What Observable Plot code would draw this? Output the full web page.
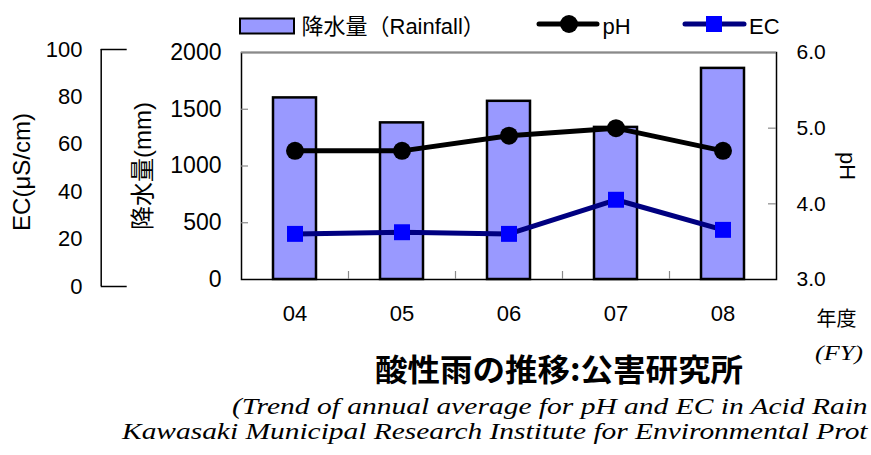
<!DOCTYPE html>
<html>
<head>
<meta charset="utf-8">
<script src="https://cdn.jsdelivr.net/npm/d3@7"></script>
<script src="https://cdn.jsdelivr.net/npm/@observablehq/plot@0.6"></script>
<style>
  html, body { margin: 0; padding: 0; background: #fff; }
  #wrap { position: relative; width: 871px; height: 455px; overflow: hidden; background: #fff;
          font-family: "Liberation Sans", Arial, "Noto Sans CJK JP", sans-serif; }
  #chart { position: absolute; left: 0; top: 0; }
  #overlay { position: absolute; left: 0; top: 0; pointer-events: none; }
  .sans { font-family: "Liberation Sans", Arial, "Noto Sans CJK JP", sans-serif; }
  .serif { font-family: "Liberation Serif", "Times New Roman", serif; font-style: italic; }
  .title { font-family: "Noto Sans CJK JP", sans-serif; font-weight: 700; }
</style>
</head>
<body>
<div id="wrap">
  <div id="chart"></div>
  <svg id="overlay" width="871" height="455"></svg>
</div>
<script>
// ---- data ----
const years = ["04", "05", "06", "07", "08"];
const rainfall = [1600, 1380, 1570, 1340, 1860];   // mm
const phValues = [4.7, 4.7, 4.9, 5.0, 4.7];
const ecValues = [22.2, 22.9, 22.2, 36.6, 23.9];   // µS/cm
const rainTicks = [0, 500, 1000, 1500, 2000];
const phTicks = [3.0, 4.0, 5.0, 6.0];
const ecTicks = [0, 20, 40, 60, 80, 100];

const legendLabels = { rain: "降水量（Rainfall）", ph: "pH", ec: "EC" };
const axisTitles = { rain: "降水量(mm)", ec: "EC(μS/cm)", ph: "pH" };
const fyLabels = ["年度", "(FY)"];
const titleText = "酸性雨の推移:公害研究所";
// the reference image cuts both caption lines at its right edge
const subtitleLines = [
  "(Trend of annual average for pH and EC in Acid Rain",
  "Kawasaki Municipal Research Institute for Environmental Prot"
];

// ---- layout ----
const W = 871, H = 330;
const mT = 52, mB = 51, mL = 241, mR = 95;
const frameW = W - mL - mR, frameH = H - mT - mB;
const rainMax = 2000;
const phToRain = p => (p - 3) / 3 * rainMax;
const rainToPh = r => r / rainMax * 3 + 3;
const ecPx0 = 286, ecPx100 = 49;
const pxToRain = px => (H - mB - px) * rainMax / frameH;
const ecToRain = e => pxToRain(ecPx0 + (ecPx100 - ecPx0) * e / 100);
const rainToEc = r => { const px = H - mB - r * frameH / rainMax; return (px - ecPx0) / (ecPx100 - ecPx0) * 100; };

const table = years.map((y, i) => ({ year: y, rain: rainfall[i], ph: phValues[i], ec: ecValues[i] }));

const ecAxisRight = 82;
const bracketX = 100.7;
const gray = "#8a8a8a";

const chart = Plot.plot({
  width: W, height: H,
  marginTop: mT, marginBottom: mB, marginLeft: mL, marginRight: mR,
  style: { fontFamily: '"Liberation Sans", Arial, "Noto Sans CJK JP", sans-serif', fontSize: "22px", color: "black", background: "transparent", overflow: "visible" },
  x: { type: "band", domain: years, paddingInner: 0.6, paddingOuter: 0.3, axis: null },
  y: { domain: [0, rainMax], axis: null },
  marks: [
    Plot.barY(table, { x: "year", y: "rain", fill: "#9999ff", stroke: "black", strokeWidth: 2.5 }),
    Plot.frame({ stroke: "black", strokeWidth: 1.5 }),
    Plot.ruleY([rainMax], { stroke: gray, strokeWidth: 1.5 }),
    Plot.ruleY(rainTicks.slice(1, -1), { stroke: gray, strokeWidth: 1.2, insetRight: frameW - 7 }),
    Plot.ruleY(phTicks.slice(1, -1).map(phToRain), { stroke: gray, strokeWidth: 1.2, insetLeft: frameW - 8 }),
    Plot.ruleX(years.slice(0, -1), { x: d => d, dx: frameW / 5 / 2, insetTop: frameH - 8, stroke: gray, strokeWidth: 1.2 }),
    Plot.line(table, { x: "year", y: d => phToRain(d.ph), stroke: "black", strokeWidth: 5 }),
    Plot.dot(table, { x: "year", y: d => phToRain(d.ph), r: 9, fill: "black" }),
    Plot.line(table, { x: "year", y: d => ecToRain(d.ec), stroke: "#000080", strokeWidth: 5 }),
    Plot.dot(table, { x: "year", y: d => ecToRain(d.ec), r: 9, symbol: "square", fill: "#0000ff" }),
    Plot.axisX({ anchor: "bottom", tickSize: 0, tickPadding: 26, fontSize: 22, label: null }),
    Plot.axisY({ anchor: "left", ticks: rainTicks, tickFormat: d => String(d), tickSize: 0, tickPadding: 20, fontSize: 23, label: null }),
    Plot.axisY({ anchor: "right", ticks: phTicks.map(phToRain), tickFormat: d => rainToPh(d).toFixed(1), tickSize: 0, tickPadding: 20, fontSize: 21, label: null }),
    Plot.axisY({ anchor: "left", ticks: ecTicks.map(ecToRain), tickFormat: d => String(Math.round(rainToEc(d))), tickSize: 0, tickPadding: 0, dx: -(mL - ecAxisRight), fontSize: 22, label: null }),
    Plot.ruleX([0], { x: null, y1: ecToRain(0), y2: ecToRain(100), dx: bracketX - (mL + frameW / 2), strokeWidth: 1.5 }),
    Plot.ruleY([0, 100].map(ecToRain), { dx: bracketX - mL, insetRight: frameW - 26, strokeWidth: 1.5 }),
    Plot.text([axisTitles.rain], { text: d => d, frameAnchor: "left", textAnchor: "middle", rotate: -90, dx: -98, dy: 0, fontSize: 24 }),
    Plot.text([axisTitles.ec], { text: d => d, frameAnchor: "left", textAnchor: "middle", rotate: -90, dx: -219.5, dy: 6, fontSize: 24 }),
    Plot.text([axisTitles.ph], { text: d => d, frameAnchor: "right", textAnchor: "middle", rotate: 90, dx: 71, dy: 0, fontSize: 22 })
  ]
});
document.getElementById("chart").appendChild(chart);

// ---- legend and captions ----
const ov = d3.select("#overlay");
function stretchedText(cls, x, y, size, str, opts = {}) {
  const t = ov.append("text").attr("class", cls).attr("x", 0).attr("y", 0).attr("font-size", size).text(str);
  if (opts.spacing) t.attr("letter-spacing", opts.spacing);
  let k = opts.scale || 1;
  if (opts.width) k = opts.width / t.node().getComputedTextLength();
  t.attr("transform", `translate(${x},${y}) scale(${k},1)`);
  return t;
}
ov.append("rect").attr("x", 240).attr("y", 18.5).attr("width", 54).attr("height", 15)
  .attr("fill", "#9999ff").attr("stroke", "black").attr("stroke-width", 2);
ov.append("text").attr("class", "sans").attr("x", 301.5).attr("y", 33.5).attr("font-size", 22).text(legendLabels.rain);
ov.append("line").attr("x1", 539).attr("x2", 597).attr("y1", 24).attr("y2", 24).attr("stroke", "black").attr("stroke-width", 5).attr("stroke-linecap", "round");
ov.append("circle").attr("cx", 569).attr("cy", 24).attr("r", 9).attr("fill", "black");
ov.append("text").attr("class", "sans").attr("x", 602.5).attr("y", 33.5).attr("font-size", 22).text(legendLabels.ph);
ov.append("line").attr("x1", 685).attr("x2", 744).attr("y1", 24).attr("y2", 24).attr("stroke", "#000080").attr("stroke-width", 5).attr("stroke-linecap", "round");
ov.append("rect").attr("x", 706).attr("y", 16).attr("width", 16).attr("height", 16).attr("fill", "#0000ff");
ov.append("text").attr("class", "sans").attr("x", 749).attr("y", 33.5).attr("font-size", 22).text(legendLabels.ec);
ov.append("text").attr("class", "sans").attr("x", 816.5).attr("y", 326).attr("font-size", 20).text(fyLabels[0]);
stretchedText("serif", 815, 360, 20, fyLabels[1], { width: 48 });
stretchedText("title", 375, 381, 31, titleText, { width: 368 });
stretchedText("serif", 232, 413.5, 23, subtitleLines[0], { width: 636 });
stretchedText("serif", 122, 439, 23, subtitleLines[1], { width: 746 });
</script>
</body>
</html>
